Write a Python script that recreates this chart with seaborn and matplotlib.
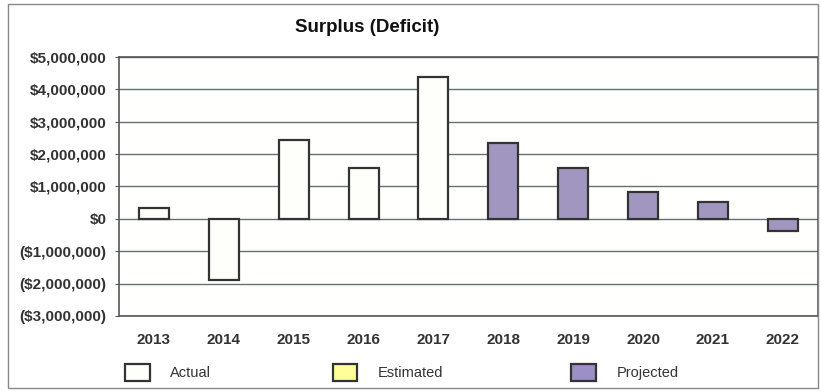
import matplotlib
matplotlib.use("Agg")
import matplotlib.pyplot as plt
import seaborn as sns
import pandas as pd
from matplotlib.patches import Patch, Rectangle
from matplotlib.ticker import FuncFormatter

# Data
years = ['2013', '2014', '2015', '2016', '2017', '2018', '2019', '2020', '2021', '2022']
surplus = [330000, -1880000, 2440000, 1570000, 4380000, 2350000, 1580000, 830000, 520000, -370000]
status = ['Actual'] * 5 + ['Projected'] * 5
legend_labels = ['Actual', 'Estimated', 'Projected']

colors = {'Actual': '#fefefa', 'Estimated': '#ffff99', 'Projected': '#9d8fc6'}

df = pd.DataFrame({'year': years, 'surplus': surplus, 'status': status})

sns.set_style('white')
plt.rcParams['font.family'] = ['Liberation Sans', 'DejaVu Sans']

fig = plt.figure(figsize=(8.21, 3.92), dpi=100)
ax = fig.add_axes([0.145, 0.194, 0.851, 0.661])

sns.barplot(data=df, x='year', y='surplus', hue='status', palette=colors,
            dodge=False, width=0.43, edgecolor='#333333', linewidth=1.6,
            legend=False, ax=ax)

ax.set_ylim(-3000000, 5000000)
ax.set_yticks(range(-3000000, 5000001, 1000000))

def money(v, pos):
    v = int(round(v))
    if v < 0:
        return '(${:,})'.format(-v)
    return '${:,}'.format(v)

ax.yaxis.set_major_formatter(FuncFormatter(money))
ax.grid(axis='y', color='#5f7274', linewidth=1)
ax.set_axisbelow(True)
ax.set_facecolor('#fffffd')
for s in ax.spines.values():
    s.set_color('#555555')
    s.set_linewidth(1.2)

ax.tick_params(axis='y', labelsize=11, pad=6, left=True, length=3, color='#555555')
ax.tick_params(axis='x', labelsize=11, pad=9, bottom=False)
for lbl in ax.get_yticklabels() + ax.get_xticklabels():
    lbl.set_fontweight('bold')
    lbl.set_color('#333333')
ax.set_xlabel('')
ax.set_ylabel('')

fig.text(0.447, 0.93, 'Surplus (Deficit)', ha='center', va='center',
         fontsize=13.5, fontweight='bold', color='#111111')

# one legend entry per spot, as in the reference
legend_x = [0.152, 0.405, 0.696]
for lab, lx in zip(legend_labels, legend_x):
    h = Patch(facecolor=colors[lab], edgecolor='#333333', linewidth=1.6)
    leg = fig.legend([h], [lab], loc='center left', bbox_to_anchor=(lx, 0.05),
                     frameon=False, fontsize=10.5, handlelength=1.7,
                     handleheight=1.4, handletextpad=1.4, borderpad=0,
                     borderaxespad=0)
    for t in leg.get_texts():
        t.set_color('#333333')

fig.patches.append(Rectangle((0.01, 0.01), 0.986, 0.98, transform=fig.transFigure,
                             fill=False, edgecolor='#888888', linewidth=1))

fig.savefig('out.png', dpi=100)
